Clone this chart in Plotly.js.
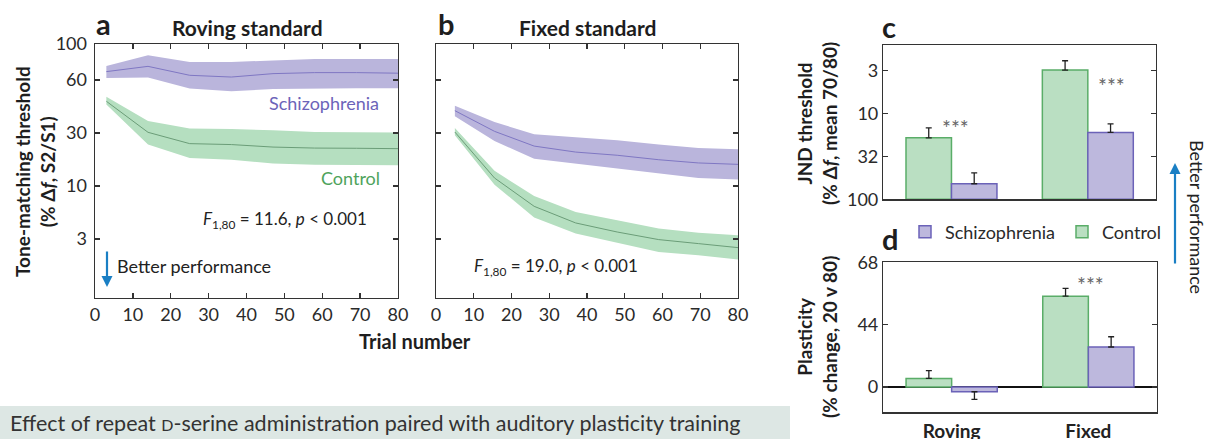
<!DOCTYPE html>
<html>
<head>
<meta charset="utf-8">
<script src="https://cdn.plot.ly/plotly-3.0.1.min.js"></script>
<style>html,body{margin:0;padding:0;background:#fff;}#chart{width:1212px;height:439px;}</style>
</head>
<body>
<div id="chart"></div>
<script>
// ---------------- data ----------------
// Panel a: roving standard (tone-matching threshold, log axis)
const trialsA = [3, 14, 25, 36, 47, 58, 69, 80];
const schizA_mean  = [120, 134.6, 110.8, 106.7, 114.9, 117.5, 117.5, 116];
const schizA_upper = [135.5, 171, 148, 148, 153, 158, 158, 158];
const schizA_lower = [104.4, 105.4, 83, 78.2, 82.2, 83.5, 83.5, 83.5];
const ctrlA_mean   = [63, 32.1, 25.1, 24.6, 23.3, 22.8, 22.7, 22.5];
const ctrlA_upper  = [69.7, 41, 34.8, 34.5, 33.5, 32.3, 32.1, 31.9];
const ctrlA_lower  = [58.6, 24.7, 18.4, 17.7, 16.3, 15.9, 15.8, 15.7];

// Panel b: fixed standard
const trialsB = [5, 15.5, 26, 37, 48, 59, 69.5, 80];
const schizB_mean  = [51.4, 32.8, 23.8, 20.9, 19.5, 17.7, 16.5, 16.0];
const schizB_upper = [57.3, 40.2, 30.7, 28.6, 27, 24.7, 22.8, 22.2];
const schizB_lower = [45.4, 26.6, 18.1, 16.3, 14.8, 13.3, 11.9, 11.5];
const ctrlB_mean   = [32.3, 11.9, 6.43, 4.48, 3.68, 3.12, 2.86, 2.62];
const ctrlB_upper  = [35.2, 13.9, 8.05, 5.69, 4.75, 3.96, 3.63, 3.43];
const ctrlB_lower  = [30.1, 10.3, 5.03, 3.56, 2.92, 2.38, 2.22, 2.02];

// Tick labels of the threshold axes
const thrTickVals = [3.162, 10, 31.62, 100, 218.8];
const thrTickText = ['3', '10', '30', '60', '100'];
const trialTicks = [0, 10, 20, 30, 40, 50, 60, 70, 80];

// Panel c: JND threshold (mean trials 70/80)
const conditions = ['Roving', 'Fixed'];
const jndControl    = [19.2, 3.11];
const jndControlErr = [4.5, 0.69];
const jndSchiz      = [65.9, 16.6];
const jndSchizErr   = [16.8, 3.4];
const jndTickVals = [3.162, 10, 31.62, 100];
const jndTickText = ['3', '10', '32', '100'];
const jndBase = 100;

// Panel d: plasticity (% change, 20 v 80)
const plastControl    = [4.7, 49.5];
const plastControlErr = [4.2, 4.3];
const plastSchiz      = [-2.6, 21.8];
const plastSchizErr   = [4.1, 5.6];
const plastTickVals = [0, 34, 68];
const plastTickText = ['0', '44', '68'];

// ---------------- styles ----------------
const W = 1212, H = 439;
const FONT = 'Lato, "Open Sans", sans-serif';
const purpleFill = '#bab5dc', purpleLine = '#7f77c3', purpleText = '#6c63b9';
const greenFill = '#b5dfc0', greenLine = '#6b9d78', greenText = '#4ea35c';
const barGreen = '#badfc2', barGreenEdge = '#5aad68';
const barPurple = '#bdb8dd', barPurpleEdge = '#6b62b8';
const axisCol = '#333';
const blue = '#1a7fc4';

const fx = p => p / W;           // pixel -> paper x
const fy = p => 1 - p / H;       // pixel -> paper y

function band(x, lo, up, mean, fill, line, xa, ya) {
  return [
    {x: x, y: lo, type: 'scatter', mode: 'lines', line: {width: 0, color: fill}, xaxis: xa, yaxis: ya, showlegend: false, hoverinfo: 'skip'},
    {x: x, y: up, type: 'scatter', mode: 'lines', line: {width: 0, color: fill}, fill: 'tonexty', fillcolor: fill, xaxis: xa, yaxis: ya, showlegend: false, hoverinfo: 'skip'},
    {x: x, y: mean, type: 'scatter', mode: 'lines', line: {width: 1, color: line}, xaxis: xa, yaxis: ya, showlegend: false}
  ];
}

const data = [].concat(
  band(trialsA, schizA_lower, schizA_upper, schizA_mean, purpleFill, purpleLine, 'x', 'y'),
  band(trialsA, ctrlA_lower, ctrlA_upper, ctrlA_mean, greenFill, greenLine, 'x', 'y'),
  band(trialsB, schizB_lower, schizB_upper, schizB_mean, purpleFill, purpleLine, 'x2', 'y2'),
  band(trialsB, ctrlB_lower, ctrlB_upper, ctrlB_mean, greenFill, greenLine, 'x2', 'y2')
);

const errStyle = {type: 'data', symmetric: false, color: '#222', thickness: 1.3, width: 3};

// Panel c bars (log axis, reversed, bars rise from 100)
data.push({
  type: 'bar', name: 'Control', x: conditions, y: jndControl.map(v => v - jndBase), base: jndBase,
  marker: {color: barGreen, line: {color: barGreenEdge, width: 1.5}},
  error_y: Object.assign({}, errStyle, {array: jndControl.map(() => 0), arrayminus: jndControlErr}),
  xaxis: 'x3', yaxis: 'y3', showlegend: true, legendrank: 2
});
data.push({
  type: 'bar', name: 'Schizophrenia', x: conditions, y: jndSchiz.map(v => v - jndBase), base: jndBase,
  marker: {color: barPurple, line: {color: barPurpleEdge, width: 1.5}},
  error_y: Object.assign({}, errStyle, {array: jndSchiz.map(() => 0), arrayminus: jndSchizErr}),
  xaxis: 'x3', yaxis: 'y3', showlegend: true, legendrank: 1
});
// Panel d bars
function upErr(vals, errs) { return vals.map((v, i) => v >= 0 ? errs[i] : 0); }
function downErr(vals, errs) { return vals.map((v, i) => v < 0 ? errs[i] : 0); }
data.push({
  type: 'bar', name: 'Control', x: conditions, y: plastControl,
  marker: {color: barGreen, line: {color: barGreenEdge, width: 1.5}},
  error_y: Object.assign({}, errStyle, {array: upErr(plastControl, plastControlErr), arrayminus: downErr(plastControl, plastControlErr)}),
  xaxis: 'x4', yaxis: 'y4', showlegend: false
});
data.push({
  type: 'bar', name: 'Schizophrenia', x: conditions, y: plastSchiz,
  marker: {color: barPurple, line: {color: barPurpleEdge, width: 1.5}},
  error_y: Object.assign({}, errStyle, {array: upErr(plastSchiz, plastSchizErr), arrayminus: downErr(plastSchiz, plastSchizErr)}),
  xaxis: 'x4', yaxis: 'y4', showlegend: false
});

const tickFont = {family: FONT, size: 18, color: '#2a2a2a'};
const axBase = {
  showline: true, linecolor: axisCol, linewidth: 1.4, mirror: 'ticks',
  ticks: 'inside', ticklen: 5, tickwidth: 1.3, tickcolor: axisCol,
  showgrid: false, zeroline: false, tickfont: tickFont, fixedrange: true, automargin: false
};
const thrY = Object.assign({}, axBase, {type: 'log', range: [-0.057, 2.34], tickvals: thrTickVals, ticktext: thrTickText, ticklabelstandoff: 3});
const trialX = Object.assign({}, axBase, {range: [0, 80], tickvals: trialTicks});

const layout = {
  width: W, height: H, margin: {l: 0, r: 0, t: 0, b: 0, autoexpand: false},
  paper_bgcolor: '#fff', plot_bgcolor: 'rgba(0,0,0,0)',
  font: {family: FONT, color: '#222'},
  barmode: 'group', bargap: 0.333, bargroupgap: 0,
  showlegend: true,
  legend: {orientation: 'h', x: fx(905), y: fy(232), xanchor: 'left', yanchor: 'middle',
           font: {family: FONT, size: 18, color: '#2a2a2a'}, traceorder: 'normal',
           bgcolor: 'rgba(0,0,0,0)', itemclick: false, entrywidth: 112, entrywidthmode: 'pixels'},
  xaxis: Object.assign({}, trialX, {domain: [fx(95), fx(398)], anchor: 'y'}),
  yaxis: Object.assign({}, thrY, {domain: [fy(298), fy(44)], anchor: 'x'}),
  xaxis2: Object.assign({}, trialX, {domain: [fx(436), fx(738)], anchor: 'y2'}),
  yaxis2: Object.assign({}, thrY, {domain: [fy(298), fy(44)], anchor: 'x2', showticklabels: false}),
  xaxis3: Object.assign({}, axBase, {domain: [fx(883.3), fx(1156)], anchor: 'y3', type: 'category', range: [-0.5, 1.5], ticks: '', showticklabels: false}),
  yaxis3: Object.assign({}, axBase, {domain: [fy(199.3), fy(45)], anchor: 'x3', type: 'log', range: [2, 0.2], tickvals: jndTickVals, ticktext: jndTickText}),
  xaxis4: Object.assign({}, axBase, {domain: [fx(883.3), fx(1156.7)], anchor: 'y4', type: 'category', range: [-0.5, 1.5], ticks: '',
           ticklabelstandoff: 1, tickfont: {family: FONT, size: 19, color: '#222', weight: 'bold'}}),
  yaxis4: Object.assign({}, axBase, {domain: [fy(412.3), fy(262.3)], anchor: 'x4', range: [-13.8, 68], tickvals: plastTickVals, ticktext: plastTickText,
           zeroline: true, zerolinecolor: '#111', zerolinewidth: 1.3}),
  shapes: [
    {type: 'rect', xref: 'paper', yref: 'paper', x0: 0, x1: fx(790), y0: 0, y1: fy(406), fillcolor: '#dde7e4', line: {width: 0}, layer: 'below'}
  ],
  annotations: []
};

function ann(text, x, y, opts) {
  layout.annotations.push(Object.assign({text: text, xref: 'paper', yref: 'paper', x: fx(x), y: fy(y),
    showarrow: false, xanchor: 'center', yanchor: 'middle', font: {family: FONT, size: 17, color: '#222'}}, opts || {}));
}
const boldF = (s) => ({family: FONT, size: s, color: '#1e1e1e', weight: 'bold'});

// panel letters & titles
ann('a', 103.5, 24, {font: boldF(29)});
ann('b', 445.5, 23, {font: boldF(29)});
ann('c', 889, 26, {font: boldF(29)});
ann('d', 890, 238, {font: boldF(29)});
ann('Roving standard', 247, 27, {font: boldF(21)});
ann('Fixed standard', 587.5, 27, {font: boldF(21)});
// axis titles
ann('Tone-matching threshold<br>(% Δ<i>f</i>, S2/S1)', 35, 172, {textangle: -90, font: boldF(19)});
ann('Trial number', 415, 341, {font: boldF(20)});
ann('JND threshold<br>(% Δ<i>f</i>, mean 70/80)', 817, 124, {textangle: -90, font: boldF(19)});
ann('Plasticity<br>(% change, 20 v 80)', 817, 337, {textangle: -90, font: boldF(19)});
// in-plot labels
ann('Schizophrenia', 324, 103, {font: {family: FONT, size: 18, color: purpleText}});
ann('Control', 350.5, 178, {font: {family: FONT, size: 18, color: greenText}});
ann('<i>F</i><sub>1,80</sub> = 11.6, <i>p</i> &lt; 0.001', 285, 220, {font: {family: FONT, size: 17, color: '#222'}});
ann('<i>F</i><sub>1,80</sub> = 19.0, <i>p</i> &lt; 0.001', 556, 267, {font: {family: FONT, size: 17, color: '#222'}});
ann('Better performance', 115, 266, {xanchor: 'left', font: {family: FONT, size: 18, color: '#222'}});
ann('Better performance', 1197, 217, {textangle: 90, font: {family: FONT, size: 18, color: '#222'}});
ann('***', 955.7, 127, {font: {family: FONT, size: 21, color: '#666'}});
ann('***', 1111.7, 85, {font: {family: FONT, size: 21, color: '#666'}});
ann('***', 1090, 284, {font: {family: FONT, size: 21, color: '#666'}});
// arrows
layout.annotations.push({xref: 'paper', yref: 'paper', x: fx(107), y: fy(287), ax: 0, ay: -37, text: '', showarrow: true,
  arrowhead: 2, arrowsize: 1, arrowwidth: 2.2, arrowcolor: blue});
layout.annotations.push({xref: 'paper', yref: 'paper', x: fx(1175), y: fy(163), ax: 0, ay: 102, text: '', showarrow: true,
  arrowhead: 2, arrowsize: 1, arrowwidth: 2.2, arrowcolor: blue});
// caption
ann('Effect of repeat <span style="font-size:16px">D</span>-serine administration paired with auditory plasticity training', 8, 423,
  {xanchor: 'left', font: {family: FONT, size: 21.5, color: '#333'}});

Plotly.newPlot('chart', data, layout, {displayModeBar: false, staticPlot: true});
</script>
</body>
</html>
